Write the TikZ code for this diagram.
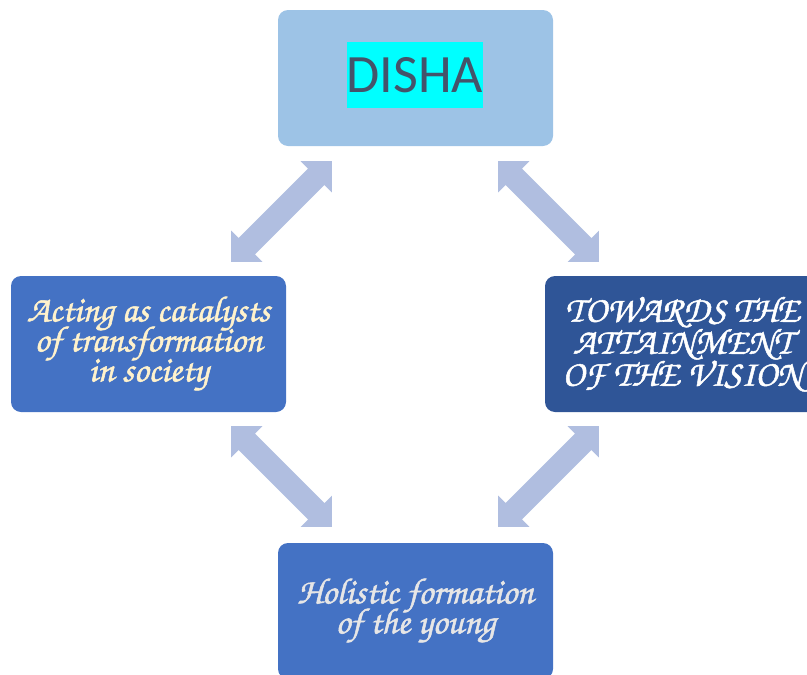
\documentclass[tikz,border=0pt]{standalone}
\usepackage[T1]{fontenc}
\usepackage{fontspec}
\newfontfamily\dishafont{Carlito}
\usetikzlibrary{calc}
\definecolor{dishabg}{HTML}{9DC3E6}
\definecolor{dishatext}{HTML}{44546A}
\definecolor{highlight}{HTML}{00FFFF}
\definecolor{boxblue}{HTML}{4472C4}
\definecolor{boxdark}{HTML}{2F5597}
\definecolor{cream}{HTML}{FFF2CC}
\definecolor{lightgray}{HTML}{E7E6E6}
\definecolor{arrowfill}{HTML}{B0BEE0}
\newcommand{\corsiva}{\fontencoding{T1}\fontfamily{pzc}\fontseries{mb}\fontshape{it}\selectfont\lineskiplimit=-30pt\lineskip=0pt\special{pdf:literal direct 2 Tr 0.5 w}}
\tikzset{
  box/.style={rounded corners=10pt, minimum width=275, minimum height=136, inner sep=0, align=center},
  dblarrow/.pic={\fill[arrowfill] (0,0) -- (22,22) -- (22,11.5) -- ({#1-22},11.5) -- ({#1-22},22) -- (#1,0)
      -- ({#1-22},-22) -- ({#1-22},-11.5) -- (22,-11.5) -- (22,-22) -- cycle;}
}
\newcommand\blockarrow[2]{%
  \path let \p1=($(#2)-(#1)$), \n1={veclen(\x1,\y1)}, \n2={atan2(\y1,\x1)} in
    pic[rotate=\n2] at (#1) {dblarrow=\n1};}
\begin{document}
\begin{tikzpicture}[x=1pt,y=-1pt]
\useasboundingbox (0,0) rectangle (807,675);
\clip (0,0) rectangle (807,675);
\node[box, fill=dishabg] (top) at (415.5,78) {};
\node[fill=highlight, text=dishatext, font={\fontsize{54}{60}\dishafont}, minimum width=136, minimum height=66, inner sep=0] (disha) at (415,75) {DISHA};
\node[box, fill=boxblue, text=cream, font={\fontsize{36.5}{30}\corsiva}] (left) at (148.5,344) {Acting as catalysts\\of transformation\\in society};
\node[box, fill=boxdark, text=white, font={\fontsize{36.5}{32}\corsiva}] (right) at (682.5,344) {TOWARDS THE\\ATTAINMENT\\OF THE VISION};
\node[box, fill=boxblue, text=lightgray, font={\fontsize{36.5}{30}\corsiva}] (bottom) at (415.5,611) {Holistic formation\\of the young};
\coordinate (a1) at ($(left.north east)+(-55,-14)$);
\coordinate (b1) at ($(top.south west)+(54,15)$);
\coordinate (a2) at ($(top.south east)+(-55,15)$);
\coordinate (b2) at ($(right.north west)+(54,-14)$);
\coordinate (a3) at ($(left.south east)+(-55,14)$);
\coordinate (b3) at ($(bottom.north west)+(54,-16)$);
\coordinate (a4) at ($(bottom.north east)+(-55,-16)$);
\coordinate (b4) at ($(right.south west)+(54,14)$);
\blockarrow{a1}{b1}
\blockarrow{a2}{b2}
\blockarrow{a3}{b3}
\blockarrow{a4}{b4}
\end{tikzpicture}
\end{document}
